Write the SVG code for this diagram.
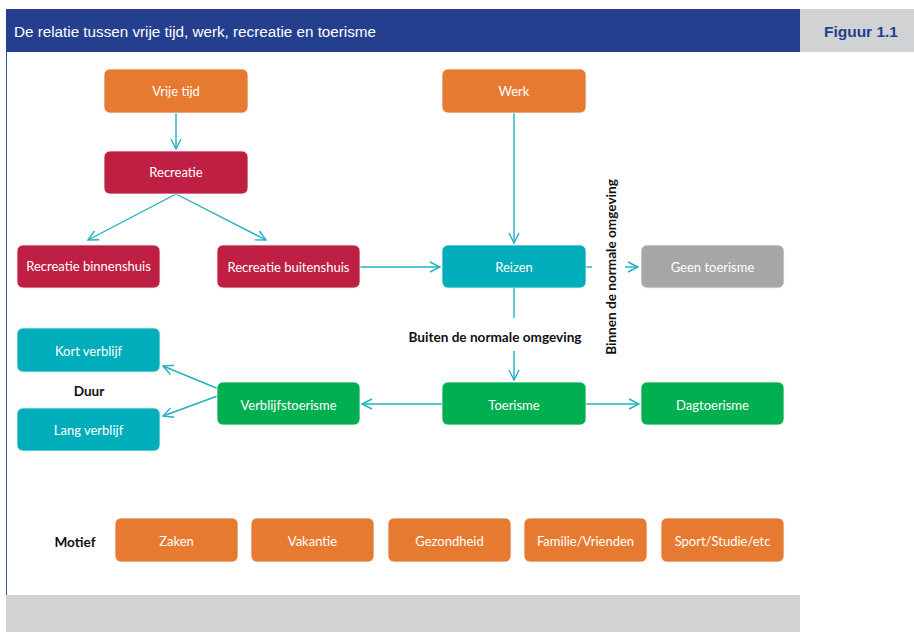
<svg xmlns="http://www.w3.org/2000/svg" width="914" height="632" viewBox="0 0 914 632">
<style>
.n rect{stroke:#f3f3f3;stroke-width:0.8}
.n text{font-family:Lato,"Open Sans",sans-serif;font-size:13px;fill:#ffffff;text-anchor:middle}
.or rect{fill:#E77A31}
.cr rect{fill:#BE1F43}
.tl rect{fill:#00ADBB}
.gy rect{fill:#A6A6A6}
.gn rect{fill:#00B050}
.lbl{font-family:Lato,"Open Sans",sans-serif;font-size:13.6px;font-weight:bold;fill:#111111}
#connectors path{fill:none;stroke:#1FB2C2;stroke-width:1.4}
</style>
<defs>
<marker id="ah" viewBox="0 0 12 12" refX="11" refY="6" markerWidth="12" markerHeight="12" markerUnits="userSpaceOnUse" orient="auto">
<path d="M1,1 L11,6 L1,11" fill="none" stroke="#1FB2C2" stroke-width="1.4"/>
</marker>
</defs>
<rect width="914" height="632" fill="#ffffff"/>
<rect x="6" y="9" width="794" height="43" fill="#243F8E"/>
<rect x="800" y="9" width="114" height="43" fill="#D1D2D4"/>
<text x="14" y="37" font-family="'Liberation Sans',Arial,sans-serif" font-size="15.5" fill="#ffffff" textLength="362" lengthAdjust="spacingAndGlyphs">De relatie tussen vrije tijd, werk, recreatie en toerisme</text>
<text x="898" y="37" font-family="'Liberation Sans',Arial,sans-serif" font-size="15.5" font-weight="bold" fill="#243F8E" text-anchor="end">Figuur 1.1</text>
<line x1="6.5" y1="52" x2="6.5" y2="632" stroke="#3A4FA8" stroke-width="1"/>
<rect x="6" y="595" width="794" height="37" fill="#D1D2D4"/>

<g id="connectors">
<path d="M176,113 V149" marker-end="url(#ah)"/>
<path d="M176,194 L88,240" marker-end="url(#ah)"/>
<path d="M176,194 L266,240" marker-end="url(#ah)"/>
<path d="M360,267 H440" marker-end="url(#ah)"/>
<path d="M514,113 V243" marker-end="url(#ah)"/>
<path d="M586,267 H592"/>
<path d="M625,267 H638" marker-end="url(#ah)"/>
<path d="M514,288 V318"/>
<path d="M514,351 V380" marker-end="url(#ah)"/>
<path d="M442,404 H362" marker-end="url(#ah)"/>
<path d="M586,404 H639" marker-end="url(#ah)"/>
<path d="M226,392 L163,366" marker-end="url(#ah)"/>
<path d="M223,394 L163,416" marker-end="url(#ah)"/>
</g>

<g id="vrije-tijd" class="n or"><rect x="104" y="69" width="144" height="44" rx="6"/><text x="176" y="96">Vrije tijd</text></g>
<g id="werk" class="n or"><rect x="442" y="69" width="144" height="44" rx="6"/><text x="514" y="96">Werk</text></g>
<g id="recreatie" class="n cr"><rect x="104" y="151" width="144" height="43" rx="6"/><text x="176" y="177">Recreatie</text></g>
<g id="recreatie-binnenshuis" class="n cr"><rect x="17" y="245" width="143" height="43" rx="6"/><text x="88.5" y="271">Recreatie binnenshuis</text></g>
<g id="recreatie-buitenshuis" class="n cr"><rect x="217" y="245" width="143" height="43" rx="6"/><text x="288.5" y="272">Recreatie buitenshuis</text></g>
<g id="reizen" class="n tl"><rect x="442" y="245" width="144" height="43" rx="6"/><text x="514" y="272">Reizen</text></g>
<g id="geen-toerisme" class="n gy"><rect x="641" y="245" width="143" height="43" rx="6"/><text x="712.5" y="272">Geen toerisme</text></g>
<g id="kort-verblijf" class="n tl"><rect x="17" y="328" width="143" height="44" rx="6"/><text x="88.5" y="356">Kort verblijf</text></g>
<g id="lang-verblijf" class="n tl"><rect x="17" y="408" width="143" height="43" rx="6"/><text x="88.5" y="435">Lang verblijf</text></g>
<g id="verblijfstoerisme" class="n gn"><rect x="217" y="382" width="143" height="43" rx="6"/><text x="288.5" y="410">Verblijfstoerisme</text></g>
<g id="toerisme" class="n gn"><rect x="442" y="382" width="144" height="43" rx="6"/><text x="514" y="410">Toerisme</text></g>
<g id="dagtoerisme" class="n gn"><rect x="641" y="382" width="143" height="43" rx="6"/><text x="712.5" y="410">Dagtoerisme</text></g>

<g id="zaken" class="n or"><rect x="115" y="518" width="123" height="44" rx="6"/><text x="176.5" y="546">Zaken</text></g>
<g id="vakantie" class="n or"><rect x="251" y="518" width="123" height="44" rx="6"/><text x="312.5" y="546">Vakantie</text></g>
<g id="gezondheid" class="n or"><rect x="388" y="518" width="123" height="44" rx="6"/><text x="449.5" y="546">Gezondheid</text></g>
<g id="familie-vrienden" class="n or"><rect x="524" y="518" width="123" height="44" rx="6"/><text x="585.5" y="546">Familie/Vrienden</text></g>
<g id="sport-studie-etc" class="n or"><rect x="661" y="518" width="123" height="44" rx="6"/><text x="722.5" y="546">Sport/Studie/etc</text></g>

<text class="lbl" x="495" y="342" text-anchor="middle">Buiten de normale omgeving</text>
<text class="lbl" transform="translate(616,267) rotate(-90)" text-anchor="middle">Binnen de normale omgeving</text>
<text class="lbl" x="89" y="396" text-anchor="middle">Duur</text>
<text class="lbl" x="75" y="547" text-anchor="middle">Motief</text>
</svg>
